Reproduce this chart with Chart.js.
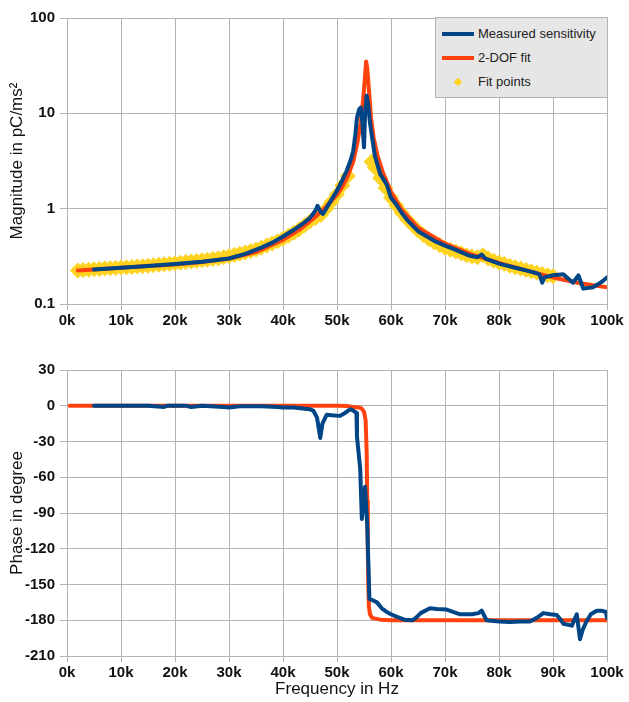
<!DOCTYPE html>
<html>
<head>
<meta charset="utf-8">
<script src="https://cdn.jsdelivr.net/npm/chart.js@4.4.1/dist/chart.umd.min.js"></script>
<style>
  body { margin: 0; background: #fff; font-family: "Liberation Sans", Arial, sans-serif; }
  #wrap { position: relative; width: 629px; height: 702px; }
  #magChart { position: absolute; left: 0; top: 0; }
  #phaseChart { position: absolute; left: 0; top: 340px; }
  #legend {
    position: absolute; left: 435px; top: 17px; width: 173px; height: 81px;
    background: #e6e6e6; border: 1px solid #b3b3b3; box-sizing: border-box;
  }
  .row { position: absolute; left: 0; height: 20px; width: 170px; font-size: 13px; color: #222; }
  .row .swatch { position: absolute; left: 6px; top: 8px; width: 32px; height: 4px; }
  .row .dot { position: absolute; left: 19px; top: 7px; width: 6px; height: 6px; transform: rotate(45deg); }
  .row span { position: absolute; left: 42px; top: 2px; white-space: nowrap; }
</style>
</head>
<body>
<div id="wrap">
  <canvas id="magChart" width="629" height="340"></canvas>
  <canvas id="phaseChart" width="629" height="362"></canvas>
  <div id="legend"></div>
</div>
<script>
// ---------------- data (frequency in kHz) ----------------
// measured sensitivity, magnitude
const measMagFreq = [5,10,15,20,25,30,33,36,38,40,42,44,45,46,46.4,47,47.4,48,49,50,
  51,51.8,52.5,53,53.4,53.7,54.1,54.4,54.7,55,55.2,55.5,55.8,56.1,56.5,57,58,59.2,60,61,
  62,63,65,68,70,72,74.6,76,76.8,77.5,80,83,85,87,87.5,88,88.4,90,91.9,93.7,
  94.7,95.6,97.4,99,100];
const measMag = [0.23,0.24,0.25,0.263,0.278,0.3,0.335,0.39,0.44,0.51,0.6,0.72,0.8,0.95,1.07,0.92,0.88,1.0,1.25,1.55,
  2.0,2.5,3.2,4.0,6.0,9.0,11,11.5,8,4.4,10,15.3,12,8,5.6,3.6,2.3,1.8,1.3,1.1,
  0.9,0.76,0.58,0.46,0.41,0.37,0.32,0.31,0.33,0.30,0.265,0.24,0.225,0.21,0.205,0.167,0.19,0.2,0.205,0.167,
  0.2,0.145,0.15,0.17,0.19];

// 2-DOF fit, magnitude
const fitMagFreq = [2,5,10,15,20,25,30,35,40,43,46,48,50,51,52,53,53.8,54.4,54.9,55.2,
  55.4,55.6,55.9,56.3,56.8,57.5,58.5,60,62,65,70,75,80,85,90,95,100];
const fitMag = [0.225,0.23,0.24,0.25,0.26,0.275,0.30,0.35,0.47,0.6,0.82,1.05,1.4,1.7,2.2,3.1,5,8,15,25,
  35,30,18,9,5.5,3.6,2.4,1.5,0.97,0.63,0.43,0.33,0.27,0.225,0.19,0.165,0.15];

// fit points (below and above the resonance)
const fitPtFreq = [2,3,4,5,6,7,8,9,10,11,12,13,14,15,16,17,18,19,20,21,
  22,23,24,25,26,27,28,29,30,31,32,33,34,35,36,37,38,39,40,41,
  42,43,44,45,46,47,48,49,50,51,52,
  56.4,57,58,59,60,61,62,63,64,65,66,67,68,69,70,71,72,73,74,75,
  76,77,78,79,80,81,82,83,84,85,86,87,88,89,90];
const fitPtMag = [0.225,0.227,0.229,0.231,0.233,0.235,0.237,0.239,0.241,0.243,
  0.245,0.247,0.249,0.252,0.255,0.258,0.261,0.264,0.267,0.271,
  0.275,0.279,0.283,0.287,0.291,0.296,0.302,0.309,0.317,0.326,
  0.336,0.347,0.36,0.374,0.39,0.41,0.43,0.455,0.485,0.52,
  0.56,0.61,0.67,0.74,0.8,0.86,1.0,1.18,1.42,1.75,2.2,
  3.1,2.7,2.1,1.65,1.3,1.08,0.9,0.77,0.67,0.59,0.53,0.48,0.445,0.415,0.39,0.37,0.355,0.34,0.325,0.315,
  0.31,0.325,0.3,0.285,0.272,0.262,0.252,0.243,0.235,0.227,0.22,0.213,0.206,0.2,0.195];

// measured sensitivity, phase
const measPhFreq = [5,10,15,18,18.5,22,23,25,29,30,32,36,39,40,42,44,45,45.6,46.3,46.9,
  47.3,48.1,49,50.5,51.5,52.4,52.7,53,53.6,53.7,54.3,54.6,54.9,55.2,55.4,55.6,55.8,56,56.5,57.4,
  58.3,59.2,60,61,62.5,64,64.6,65.5,67.2,68.5,70.3,71.5,72.8,75,76.2,76.8,77.7,80,82,84,
  85.7,87,88.2,89.5,90.7,91.5,91.9,93.5,94.4,95,95.5,96.2,97,98.1,99,99.8,100];
const measPh = [0,0,0,-1,0,0,-1,0,-1,-1.5,-0.5,-0.5,-1,-1.5,-1.5,-2.5,-3,-4,-10,-27,
  -15,-7.5,-8,-8.5,-6,-3,-3.3,-4,-6,-26,-53,-95,-80,-68,-85,-100,-131,-162,-163,-165,
  -170,-173,-175,-177,-179.5,-180,-178,-174,-170,-170.5,-171,-173,-175,-175,-174,-172,-180,-181,-181.5,-181,
  -181,-178,-174,-175,-175.5,-180,-183,-184.5,-175,-196,-188,-181,-175,-172,-172,-173,-178];

// 2-DOF fit, phase
const fitPhFreq = [0.5,50,52,53,54,54.5,55,55.3,55.5,55.6,55.7,55.8,55.9,56.1,56.5,58,60,100];
const fitPh = [0,0,-0.3,-1,-1.5,-2,-5,-12,-40,-80,-120,-150,-168,-175,-178,-179.5,-180,-180];

const magTicks = [0.1, 1, 10, 100];
const freqTicks = [0,10,20,30,40,50,60,70,80,90,100];

const blue = '#004586';
const orange = '#ff420e';
const yellow = '#ffd320';
const gridGrey = '#b3b3b3';

Chart.defaults.font.family = '"Liberation Sans", Arial, sans-serif';
Chart.defaults.color = '#111';
Chart.defaults.animation = false;

function pairs(xs, ys) {
  return xs.map((x, i) => ({ x: x, y: ys[i] }));
}

function lineSet(label, xs, ys, color) {
  return {
    label: label, data: pairs(xs, ys), showLine: true,
    borderColor: color, backgroundColor: color, borderWidth: 4,
    borderJoinStyle: 'round', borderCapStyle: 'round',
    pointRadius: 0, tension: 0
  };
}

const tickFont = { size: 15, weight: 'bold' };
const titleFont = { size: 17 };

function xScale(height, withTitle) {
  return {
    type: 'linear', min: 0, max: 100,
    afterBuildTicks: s => { s.ticks = freqTicks.map(v => ({ value: v })); },
    ticks: { callback: v => v + 'k', font: tickFont, maxRotation: 0, padding: 2, color: '#111' },
    grid: { color: gridGrey, tickLength: 6 },
    border: { color: gridGrey },
    title: { display: withTitle, text: 'Frequency in Hz', font: titleFont, color: '#111', padding: { top: 0, bottom: 2 } },
    afterFit: s => { s.height = height; }
  };
}

//////////////// magnitude chart ////////////////
const magData = {
  datasets: [
    lineSet('Measured sensitivity', measMagFreq, measMag, blue),
    lineSet('2-DOF fit', fitMagFreq, fitMag, orange),
    {
      label: 'Fit points', data: pairs(fitPtFreq, fitPtMag), showLine: false,
      pointStyle: 'rectRot', pointRadius: 8, pointBorderWidth: 0,
      pointBackgroundColor: yellow, backgroundColor: yellow, borderColor: yellow
    }
  ]
};

const magChart = new Chart(document.getElementById('magChart'), {
  type: 'scatter',
  data: magData,
  options: {
    responsive: false, devicePixelRatio: 1,
    layout: { padding: { top: 18, right: 22, left: 0, bottom: 0 } },
    plugins: { legend: { display: false }, tooltip: { enabled: false } },
    scales: {
      x: xScale(36, false),
      y: {
        type: 'logarithmic', min: 0.1, max: 100,
        afterBuildTicks: s => { s.ticks = magTicks.map(v => ({ value: v })); },
        ticks: { callback: v => String(v), font: tickFont, padding: 5, color: '#111' },
        grid: { color: gridGrey, tickLength: 7 },
        border: { color: gridGrey },
        title: { display: true, text: 'Magnitude in pC/ms²', font: titleFont, color: '#111', padding: { top: 7, bottom: 0 } },
        afterFit: s => { s.width = 67; }
      }
    }
  }
});

//////////////// phase chart ////////////////
new Chart(document.getElementById('phaseChart'), {
  type: 'scatter',
  data: {
    datasets: [
      lineSet('Measured sensitivity', measPhFreq, measPh, blue),
      lineSet('2-DOF fit', fitPhFreq, fitPh, orange)
    ]
  },
  options: {
    responsive: false, devicePixelRatio: 1,
    layout: { padding: { top: 30, right: 22, left: 0, bottom: 0 } },
    plugins: { legend: { display: false }, tooltip: { enabled: false } },
    scales: {
      x: xScale(46, true),
      y: {
        type: 'linear', min: -210, max: 30,
        ticks: { stepSize: 30, font: tickFont, padding: 5, color: '#111' },
        grid: { color: gridGrey, tickLength: 7 },
        border: { color: gridGrey },
        title: { display: true, text: 'Phase in degree', font: titleFont, color: '#111', padding: { top: 7, bottom: 0 } },
        afterFit: s => { s.width = 67; }
      }
    }
  }
});

//////////////// legend (html) ////////////////
const legend = document.getElementById('legend');
const rowTops = [16, 40, 64];
magData.datasets.forEach((ds, i) => {
  const row = document.createElement('div');
  row.className = 'row';
  row.style.top = (rowTops[i] - 10) + 'px';
  const mark = document.createElement('div');
  if (ds.showLine) {
    mark.className = 'swatch';
    mark.style.background = ds.borderColor;
  } else {
    mark.className = 'dot';
    mark.style.background = ds.pointBackgroundColor;
  }
  const txt = document.createElement('span');
  txt.textContent = ds.label;
  row.appendChild(mark);
  row.appendChild(txt);
  legend.appendChild(row);
});
</script>
</body>
</html>
